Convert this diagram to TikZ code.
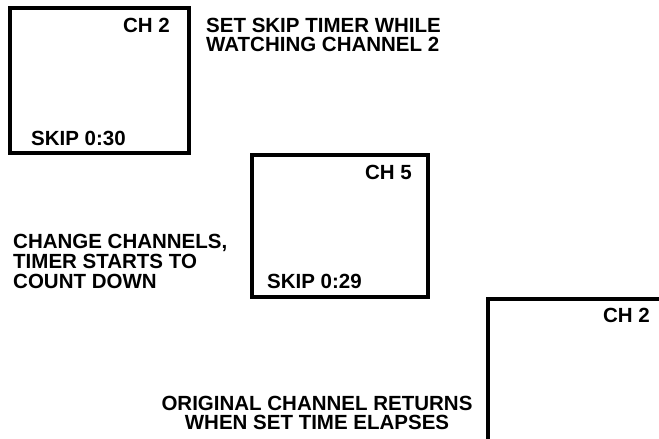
\documentclass[tikz,border=0pt]{standalone}
\usepackage{fontspec}
\setmainfont{Liberation Sans}
\begin{document}
\begin{tikzpicture}[x=1pt,y=-1pt,
  screen/.style={draw=black,line width=3.6pt,inner sep=0pt},
  lbl/.style={inner sep=0pt,font=\fontsize{20.5}{20.5}\selectfont\bfseries}]
\useasboundingbox (0,0) rectangle (659,439);
\begin{scope}
\clip (0,0) rectangle (659,439);
% screens
\node[screen,minimum width=179pt,minimum height=145pt] (s1) at (99.5,80.5) {};
\node[screen,minimum width=176pt,minimum height=142pt] (s2) at (340,226) {};
\node[screen,minimum width=182pt,minimum height=142pt] (s3) at (579,370) {};
\end{scope}
% screen texts
\node[lbl,anchor=base east] (c1) at (170,32) {CH 2};
\node[lbl,anchor=base west] (k1) at (31,145) {SKIP 0:30};
\node[lbl,anchor=base east] (c2) at (412,179) {CH 5};
\node[lbl,anchor=base west] (k2) at (267,288) {SKIP 0:29};
\node[lbl,anchor=base east] (c3) at (650,322) {CH 2};
% captions
\node[lbl,anchor=base west] (a1) at (206,32) {SET SKIP TIMER WHILE};
\node[lbl,anchor=base west] (a2) at (206,51) {WATCHING CHANNEL 2};
\node[lbl,anchor=base west] (b1) at (13,248) {CHANGE CHANNELS,};
\node[lbl,anchor=base west] (b2) at (13,268) {TIMER STARTS TO};
\node[lbl,anchor=base west] (b3) at (13,288) {COUNT DOWN};
\node[lbl,anchor=base] (d1) at (317,410) {ORIGINAL CHANNEL RETURNS};
\node[lbl,anchor=base] (d2) at (317,429) {WHEN SET TIME ELAPSES};
\end{tikzpicture}
\end{document}
